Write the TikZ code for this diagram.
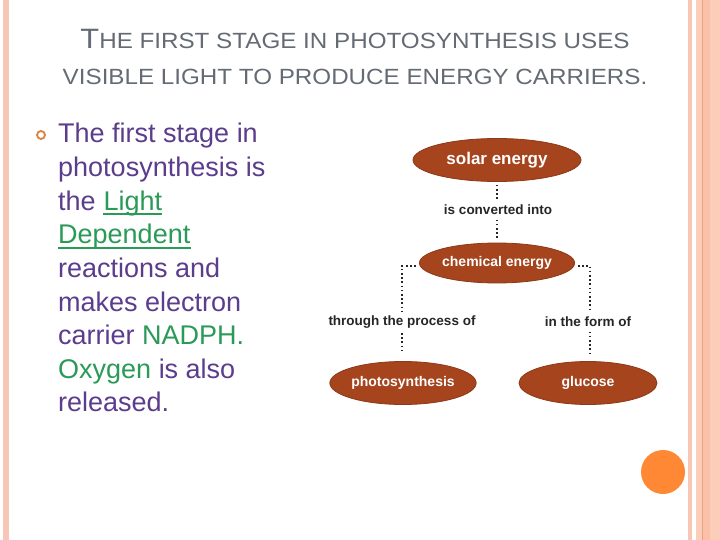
\documentclass[tikz,border=0pt]{standalone}
\usepackage{fontspec}
\setmainfont{Liberation Sans}
\newfontfamily\titlefont[FakeStretch=1.1]{Liberation Sans}
\newfontfamily\diagfont{Liberation Sans}
\usetikzlibrary{shapes.geometric}
\definecolor{stripe}{HTML}{F8C6B4}
\definecolor{stripeB}{HTML}{FCCDB8}
\definecolor{stripeC}{HTML}{FAC0A8}
\definecolor{stripeLine}{HTML}{E8A47C}
\definecolor{titlegray}{HTML}{646B74}
\definecolor{bodypurple}{HTML}{5C3C8C}
\definecolor{bodygreen}{HTML}{2A9A57}
\definecolor{bulletorange}{HTML}{E07E3C}
\definecolor{ovalfill}{HTML}{A6441E}
\definecolor{ovaledge}{HTML}{8E3818}
\definecolor{dotorange}{HTML}{FF8834}
\begin{document}
\begin{tikzpicture}[x=1pt,y=-1pt,
  bodyline/.style={anchor=base west,inner sep=0pt,text=bodypurple,font=\fontsize{27}{27}\selectfont},
  oval/.style={ellipse,fill=ovalfill,draw=ovaledge,line width=0.8pt,inner sep=0pt,text=white,font=\diagfont\bfseries\fontsize{14}{14}\selectfont},
  linklabel/.style={inner sep=4.5pt,text=black!85,font=\diagfont\bfseries\fontsize{13.5}{13.5}\selectfont},
  dotline/.style={line width=1.6pt,dash pattern=on 1.6pt off 2.6pt,black!85},
  ulline/.style={draw=bodygreen,line width=1.6pt}]
\useasboundingbox (0,0) rectangle (720,540);
\fill[white] (0,0) rectangle (720,540);
% border stripes
\fill[stripe] (3,0) rectangle (9,540);
\fill[stripe] (688,0) rectangle (692,540);
\fill[stripeB] (696,0) rectangle (702,540);
\fill[stripeC] (703,0) rectangle (710,540);
\fill[stripeB] (710,0) rectangle (720,540);
\fill[stripeLine] (702,0) rectangle (703.2,540);
% title
\node[anchor=base,inner sep=0pt,text=titlegray] (t1) at (355,49)
  {\titlefont{\fontsize{28}{28}\selectfont T}{\fontsize{22}{22}\selectfont HE FIRST STAGE IN PHOTOSYNTHESIS USES}};
\node[anchor=base,inner sep=0pt,text=titlegray] (t2) at (355,85)
  {\titlefont\fontsize{22}{22}\selectfont VISIBLE LIGHT TO PRODUCE ENERGY CARRIERS.};
% bullet
\node[circle,draw=bulletorange,line width=1.8pt,minimum size=8pt,inner sep=0pt] (bul) at (41,135) {};
% body text
\node[bodyline] (l1) at (58,143) {The first stage in};
\node[bodyline] (l2) at (58,176.6) {photosynthesis is};
\node[bodyline] (l3a) at (58,210.2) {the};
\node[bodyline,text=bodygreen] (l3b) at ([xshift=7.5pt]l3a.base east) {Light};
\node[bodyline,text=bodygreen] (l4) at (58,243.8) {Dependent};
\node[bodyline] (l5) at (58,277.4) {reactions and};
\node[bodyline] (l6) at (58,311) {makes electron};
\node[bodyline] (l7) at (58,344.6) {carrier \textcolor{bodygreen}{NADPH.}};
\node[bodyline] (l8) at (58,378.2) {\textcolor{bodygreen}{Oxygen} is also};
\node[bodyline] (l9) at (58,411.8) {released.};
\draw[ulline] ([yshift=-4pt]l3b.base west) -- ([yshift=-4pt]l3b.base east);
\draw[ulline] ([yshift=-4pt]l4.base west) -- ([yshift=-4pt]l4.base east);
% diagram
\node[oval,minimum width=168pt,minimum height=43pt,font=\diagfont\bfseries\fontsize{17}{17}\selectfont] (solar) at (497,160) {solar energy};
\node[oval,minimum width=140pt,minimum height=40pt] (chem) at (497,263) {chemical energy};
\node[oval,minimum width=138pt,minimum height=43pt] (photo) at (403,383) {photosynthesis};
\node[oval,minimum width=138pt,minimum height=43pt] (gluc) at (588,383) {glucose};
\node[linklabel] (conv) at (498,210) {is converted into};
\node[linklabel] (thr) at (402,322) {through the process of};
\node[linklabel] (form) at (588,322) {in the form of};
\coordinate (cL) at (402,266);
\coordinate (cR) at (590,266);
\draw[dotline,shorten <=3pt] (solar.south) -- (conv.north -| solar.south);
\draw[dotline,shorten >=2pt] (conv.south -| solar.south) -- (chem.north);
\draw[dotline] (chem.west |- cL) ++(-3,0) -- (cL) -- (thr.north);
\draw[dotline] (chem.east |- cR) ++(3,0) -- (cR) -- (form.north -| cR);
\draw[dotline,shorten >=8pt] (thr.south) -- (photo.north -| thr.south);
\draw[dotline,shorten >=8pt] (form.south -| cR) -- (gluc.north -| cR);
% decorative circle
\fill[dotorange] (663,472) circle (22);
\end{tikzpicture}
\end{document}
